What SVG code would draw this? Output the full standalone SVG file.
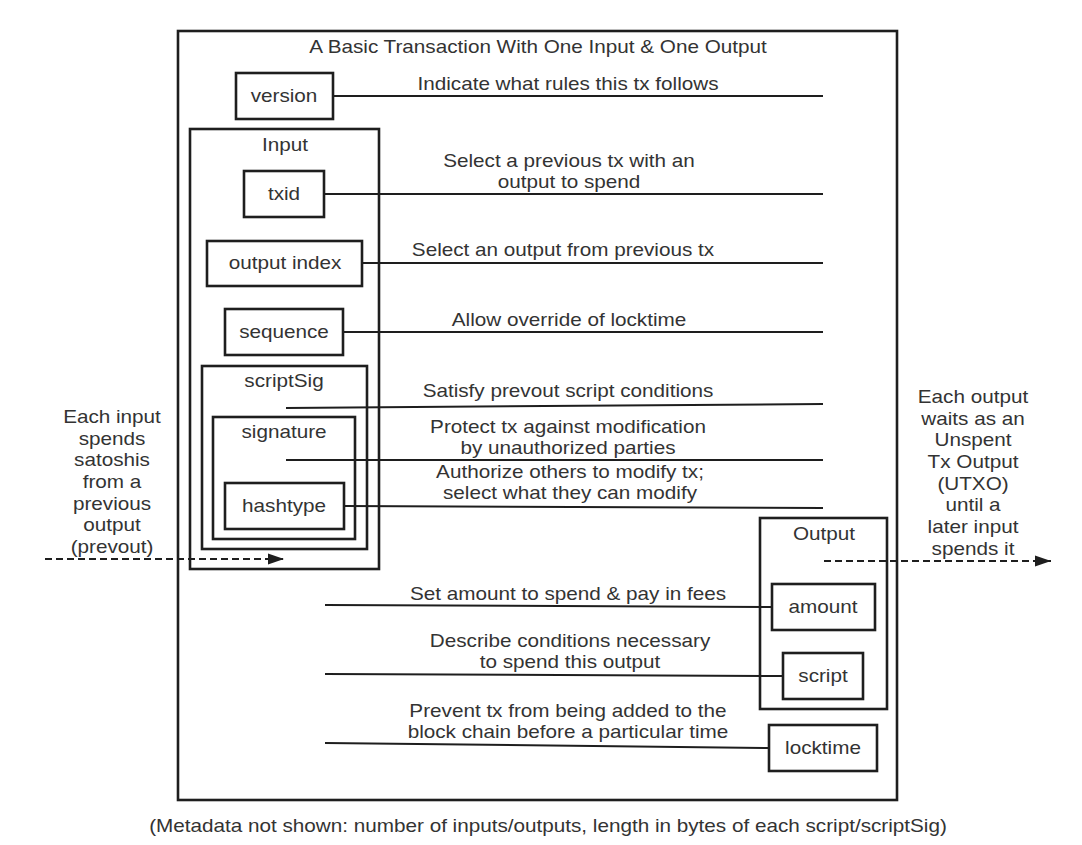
<svg xmlns="http://www.w3.org/2000/svg" width="1082" height="845" viewBox="0 0 1082 845">
<style>
  .box { fill: none; stroke: #1e1e1e; stroke-width: 2.6; }
  .outer { fill: none; stroke: #1e1e1e; stroke-width: 2.6; }
  .t { font-family: "Liberation Sans", Arial, sans-serif; font-size: 18px; fill: #333; text-anchor: middle; }
  .ln { stroke: #1e1e1e; stroke-width: 2; fill: none; }
  .dash { stroke: #1e1e1e; stroke-width: 2.2; fill: none; stroke-dasharray: 7 4; }
</style>
<defs>
  <marker id="ah" markerWidth="17" markerHeight="13" refX="16" refY="6.5" orient="auto" markerUnits="userSpaceOnUse">
    <path d="M0,1 L16,6.5 L0,12 Z" fill="#1e1e1e"/>
  </marker>
</defs>
<rect width="1082" height="845" fill="#fff"/>

<g id="transaction">
  <rect class="outer" x="178" y="31" width="719" height="769"/>
  <text class="t" transform="translate(538,53) scale(1.15,1)">A Basic Transaction With One Input &amp; One Output</text>
</g>

<g id="version">
  <rect class="box" x="236" y="73" width="97" height="46"/>
  <text class="t" transform="translate(284,102) scale(1.15,1)">version</text>
</g>

<g id="input">
  <rect class="box" x="190" y="129" width="189" height="440"/>
  <text class="t" transform="translate(285,151) scale(1.15,1)">Input</text>
</g>

<g id="txid">
  <rect class="box" x="244" y="171" width="80" height="46"/>
  <text class="t" transform="translate(284,200) scale(1.15,1)">txid</text>
</g>

<g id="output-index">
  <rect class="box" x="207" y="241" width="155" height="45"/>
  <text class="t" transform="translate(285,269) scale(1.15,1)">output index</text>
</g>

<g id="sequence">
  <rect class="box" x="225" y="309" width="118" height="46"/>
  <text class="t" transform="translate(284,338) scale(1.15,1)">sequence</text>
</g>

<g id="scriptSig">
  <rect class="box" x="202" y="366" width="165" height="183"/>
  <text class="t" transform="translate(284,387) scale(1.15,1)">scriptSig</text>
</g>

<g id="signature">
  <rect class="box" x="213" y="417" width="142" height="122"/>
  <text class="t" transform="translate(284,438) scale(1.15,1)">signature</text>
</g>

<g id="hashtype">
  <rect class="box" x="225" y="483" width="119" height="46"/>
  <text class="t" transform="translate(284,512) scale(1.15,1)">hashtype</text>
</g>

<g id="output">
  <rect class="box" x="760" y="518" width="127" height="191"/>
  <text class="t" transform="translate(824,540) scale(1.15,1)">Output</text>
</g>

<g id="amount">
  <rect class="box" x="772" y="584" width="103" height="46"/>
  <text class="t" transform="translate(823,613) scale(1.15,1)">amount</text>
</g>

<g id="script">
  <rect class="box" x="783" y="653" width="80" height="46"/>
  <text class="t" transform="translate(823,682) scale(1.15,1)">script</text>
</g>

<g id="locktime">
  <rect class="box" x="769" y="725" width="108" height="46"/>
  <text class="t" transform="translate(823,754) scale(1.15,1)">locktime</text>
</g>

<g id="connectors">
  <line class="ln" x1="333" y1="96" x2="823" y2="96"/>
  <line class="ln" x1="324" y1="194" x2="823" y2="194"/>
  <line class="ln" x1="362" y1="263" x2="823" y2="263"/>
  <line class="ln" x1="343" y1="332" x2="823" y2="332"/>
  <line class="ln" x1="286" y1="408" x2="823" y2="404"/>
  <line class="ln" x1="286" y1="460" x2="823" y2="460"/>
  <line class="ln" x1="344" y1="506" x2="823" y2="508"/>
  <line class="ln" x1="325" y1="605" x2="772" y2="607"/>
  <line class="ln" x1="325" y1="674" x2="783" y2="676"/>
  <line class="ln" x1="325" y1="743" x2="769" y2="748"/>
  <line class="dash" x1="45" y1="559" x2="284" y2="559" marker-end="url(#ah)"/>
  <line class="dash" x1="824" y1="561" x2="1051" y2="561" marker-end="url(#ah)"/>
</g>

<g id="labels">
  <text class="t" transform="translate(568,90) scale(1.15,1)">Indicate what rules this tx follows</text>
  <text class="t" transform="translate(569,167) scale(1.15,1)"><tspan x="0" y="0">Select a previous tx with an</tspan><tspan x="0" y="21">output to spend</tspan></text>
  <text class="t" transform="translate(563,256) scale(1.15,1)">Select an output from previous tx</text>
  <text class="t" transform="translate(569,326) scale(1.15,1)">Allow override of locktime</text>
  <text class="t" transform="translate(568,397) scale(1.15,1)">Satisfy prevout script conditions</text>
  <text class="t" transform="translate(568,433) scale(1.15,1)"><tspan x="0" y="0">Protect tx against modification</tspan><tspan x="0" y="21">by unauthorized parties</tspan></text>
  <text class="t" transform="translate(570,478) scale(1.15,1)"><tspan x="0" y="0">Authorize others to modify tx;</tspan><tspan x="0" y="21">select what they can modify</tspan></text>
  <text class="t" transform="translate(568,600) scale(1.15,1)">Set amount to spend &amp; pay in fees</text>
  <text class="t" transform="translate(570,647) scale(1.15,1)"><tspan x="0" y="0">Describe conditions necessary</tspan><tspan x="0" y="21">to spend this output</tspan></text>
  <text class="t" transform="translate(568,717) scale(1.15,1)"><tspan x="0" y="0">Prevent tx from being added to the</tspan><tspan x="0" y="21">block chain before a particular time</tspan></text>
  <text class="t" transform="translate(112,423) scale(1.15,1)"><tspan x="0" y="0">Each input</tspan><tspan x="0" y="21.7">spends</tspan><tspan x="0" y="43.4">satoshis</tspan><tspan x="0" y="65.1">from a</tspan><tspan x="0" y="86.8">previous</tspan><tspan x="0" y="108.5">output</tspan><tspan x="0" y="130.2">(prevout)</tspan></text>
  <text class="t" transform="translate(973,403) scale(1.15,1)"><tspan x="0" y="0">Each output</tspan><tspan x="0" y="21.7">waits as an</tspan><tspan x="0" y="43.4">Unspent</tspan><tspan x="0" y="65.1">Tx Output</tspan><tspan x="0" y="86.8">(UTXO)</tspan><tspan x="0" y="108.5">until a</tspan><tspan x="0" y="130.2">later input</tspan><tspan x="0" y="151.9">spends it</tspan></text>
  <text class="t" transform="translate(548,832) scale(1.15,1)">(Metadata not shown: number of inputs/outputs, length in bytes of each script/scriptSig)</text>
</g>
</svg>
